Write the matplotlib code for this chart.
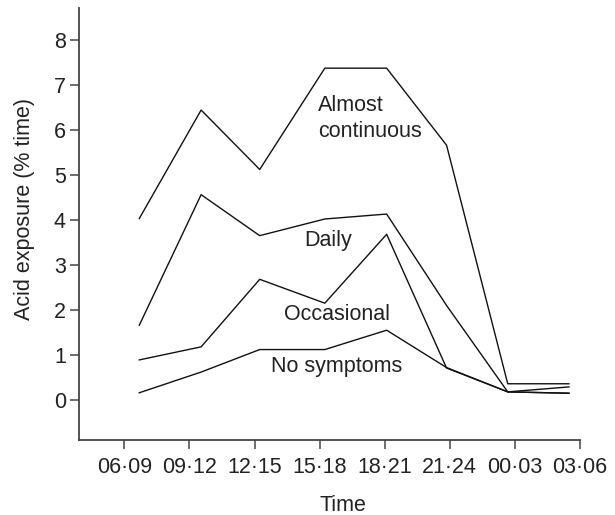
import matplotlib
matplotlib.use("Agg")
import matplotlib.pyplot as plt

plt.rcParams['font.family'] = ['Liberation Sans', 'DejaVu Sans']

# time-of-day bins and where each measurement sits along the axis
periods = ['06·09', '09·12', '12·15', '15·18', '18·21', '21·24', '00·03', '03·06']
x_pos = [0.23, 1.18, 2.08, 3.08, 4.03, 4.95, 5.89, 6.83]

almost_continuous = [4.03, 6.44, 5.12, 7.37, 7.37, 5.66, 0.36, 0.36]
daily = [1.66, 4.56, 3.65, 4.02, 4.13, 2.10, 0.18, 0.29]
occasional = [0.89, 1.18, 2.68, 2.15, 3.68, 0.71, 0.18, 0.15]
no_symptoms = [0.16, 0.62, 1.12, 1.12, 1.55, 0.72, 0.18, 0.15]

fs = 15.5

fig = plt.figure(figsize=(6.15, 5.15), dpi=100)
ax = fig.add_axes([79/615, 1 - 440/515, (580 - 79)/615, (440 - 8.3)/515])

for series in [almost_continuous, daily, occasional, no_symptoms]:
    ax.plot(x_pos, series, color='#111111', lw=1.0)

txt = dict(fontsize=fs, color='#222222', ha='left', va='baseline')
ax.text(2.975, 6.41, 'Almost', **txt)
ax.text(2.975, 5.85, 'continuous', **txt)
ax.text(2.76, 3.41, 'Daily', **txt)
ax.text(2.45, 1.78, 'Occasional', **txt)
ax.text(2.25, 0.63, 'No symptoms', **txt)

ax.set_xlim(-0.696, 7.0)
ax.set_ylim(-0.889, 8.70)
ax.set_xticks(range(len(periods)))
ax.set_xticklabels(periods)
ax.set_yticks(range(0, 9))

for side in ['top', 'right']:
    ax.spines[side].set_visible(False)
for side in ['left', 'bottom']:
    ax.spines[side].set_color('#444444')
    ax.spines[side].set_linewidth(1.3)

ax.tick_params(axis='both', colors='#444444', labelcolor='#222222',
               labelsize=fs, width=1.1, length=6.5)
ax.tick_params(axis='x', pad=6)
ax.tick_params(axis='y', pad=3)

ax.set_xlabel('Time', fontsize=fs, color='#222222')
ax.set_ylabel('Acid exposure (% time)', fontsize=fs, color='#222222')
ax.xaxis.set_label_coords(0.526, -0.128)
ax.yaxis.set_label_coords(-0.088, 0.536)

fig.savefig('out.png', dpi=100)
